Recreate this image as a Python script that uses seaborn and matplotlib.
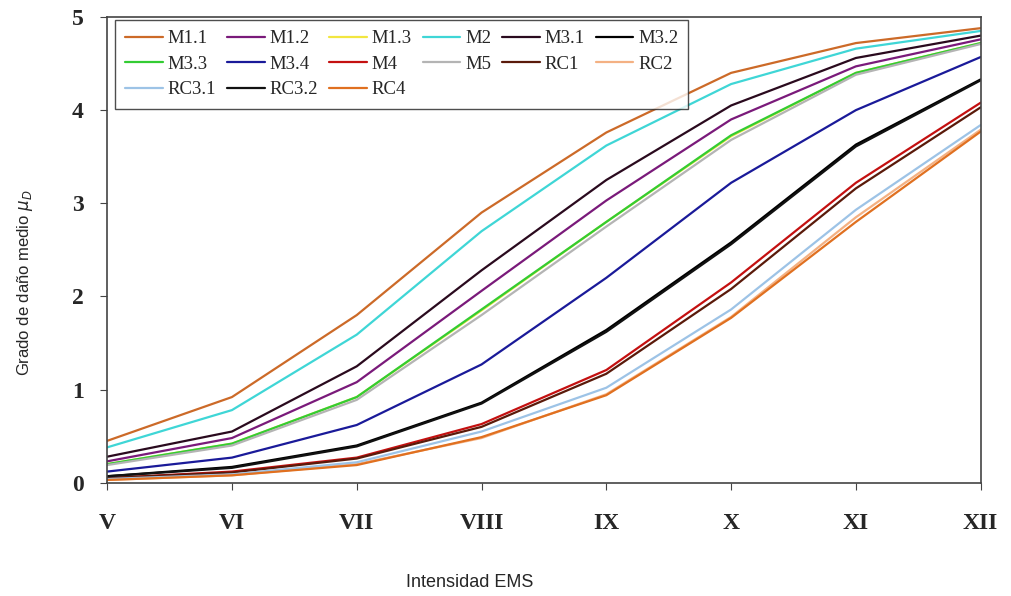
import numpy as np
import pandas as pd
import seaborn as sns
import matplotlib.pyplot as plt

# EMS intensity categories
intensities = ["V", "VI", "VII", "VIII", "IX", "X", "XI", "XII"]

# mean damage grade per building typology
m1_1 = [0.45, 0.92, 1.80, 2.90, 3.76, 4.40, 4.72, 4.88]
m1_2 = [0.23, 0.48, 1.08, 2.06, 3.03, 3.90, 4.47, 4.76]
m1_3 = [0.20, 0.42, 0.92, 1.85, 2.80, 3.72, 4.40, 4.72]
m2 = [0.38, 0.78, 1.59, 2.70, 3.62, 4.28, 4.66, 4.85]
m3_1 = [0.28, 0.55, 1.25, 2.28, 3.25, 4.05, 4.56, 4.80]
m3_2 = [0.07, 0.17, 0.40, 0.86, 1.64, 2.58, 3.63, 4.33]
m3_3 = [0.20, 0.42, 0.92, 1.86, 2.80, 3.73, 4.40, 4.72]
m3_4 = [0.12, 0.27, 0.62, 1.27, 2.20, 3.22, 4.00, 4.57]
m4 = [0.05, 0.12, 0.27, 0.63, 1.21, 2.15, 3.22, 4.08]
m5 = [0.19, 0.40, 0.89, 1.80, 2.75, 3.68, 4.38, 4.71]
rc1 = [0.05, 0.11, 0.26, 0.60, 1.17, 2.08, 3.16, 4.03]
rc2 = [0.03, 0.08, 0.20, 0.48, 0.95, 1.78, 2.85, 3.79]
rc3_1 = [0.04, 0.09, 0.22, 0.55, 1.02, 1.86, 2.93, 3.84]
rc3_2 = [0.07, 0.16, 0.39, 0.85, 1.62, 2.56, 3.61, 4.32]
rc4 = [0.03, 0.08, 0.19, 0.49, 0.94, 1.77, 2.80, 3.77]

series_names = ["M1.1", "M1.2", "M1.3", "M2", "M3.1", "M3.2", "M3.3", "M3.4",
                "M4", "M5", "RC1", "RC2", "RC3.1", "RC3.2", "RC4"]
series_values = [m1_1, m1_2, m1_3, m2, m3_1, m3_2, m3_3, m3_4,
                 m4, m5, rc1, rc2, rc3_1, rc3_2, rc4]
colors = ["#cc6a28", "#7a1a7a", "#f2e640", "#3fd6d6", "#2a0a1e", "#000000",
          "#33cc33", "#1a1a99", "#c41010", "#b4b4b4", "#5a1a0a", "#f4b183",
          "#9dc3e6", "#111111", "#e07020"]
palette = dict(zip(series_names, colors))

rows = []
for name, vals in zip(series_names, series_values):
    for i, v in enumerate(vals):
        rows.append({"pos": i, "serie": name, "mu": v})
data = pd.DataFrame(rows)

sns.set_style("ticks")
plt.rcParams['font.family'] = ['Liberation Serif', 'DejaVu Serif']

fig = plt.figure(figsize=(10.11, 5.96), dpi=100)
ax = fig.add_axes([0.106, 0.19, 0.864, 0.7815])

sns.lineplot(data=data, x="pos", y="mu", hue="serie", hue_order=series_names,
             palette=palette, linewidth=1.6, ax=ax, legend=False)

ax.set_xlim(0, 7)
ax.set_ylim(0, 5)
ax.set_xticks(range(len(intensities)))
ax.set_xticklabels(intensities, fontsize=17, fontweight="bold")
ax.set_yticks(range(6))
ax.set_yticklabels([str(i) for i in range(6)], fontsize=17, fontweight="bold")
ax.tick_params(axis="x", direction="out", length=5, pad=17, color="#444444")
ax.tick_params(axis="y", direction="out", length=5, pad=12, color="#444444")
for s in ax.spines.values():
    s.set_color("#444444")
    s.set_linewidth(1.2)

ax.set_xlabel("Intensidad EMS", fontsize=13, family="Liberation Sans")
ax.xaxis.set_label_coords(0.415, -0.195)
ax.set_ylabel(r"Grado de daño medio $\mu_D$", fontsize=12, family="Liberation Sans")
ax.yaxis.set_label_coords(-0.083, 0.43)

# legend filled row by row (matplotlib fills columns, so reorder)
ncol = 6
nrows = int(np.ceil(len(series_names) / ncol))
order = []
for c in range(ncol):
    for r in range(nrows):
        k = r * ncol + c
        if k < len(series_names):
            order.append(k)
handles = [plt.Line2D([], [], color=colors[k], linewidth=1.6) for k in order]
labels = [series_names[k] for k in order]
leg = ax.legend(handles, labels, ncol=ncol, loc="upper left",
                bbox_to_anchor=(0.009, 0.994), borderaxespad=0, fontsize=13.5,
                frameon=True, fancybox=False, edgecolor="#222222",
                handlelength=2.0, handletextpad=0.25, columnspacing=0.6,
                labelspacing=0.45, borderpad=0.55)
leg.get_frame().set_linewidth(1.0)

fig.savefig("out.png", dpi=100)
